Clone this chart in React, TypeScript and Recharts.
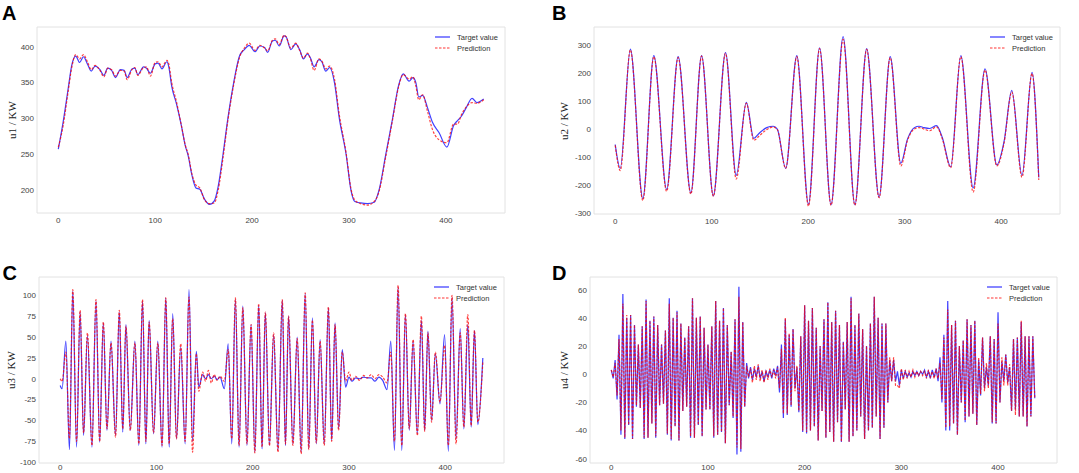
import React from 'react';
import { LineChart, Line, XAxis, YAxis, ReferenceArea } from 'recharts';

const X_DOMAIN: [number, number] = [-22, 461];
const X_TICKS = [0, 100, 200, 300, 400];
const BLUE = '#0000ff';
const RED = '#ff0000';
const SANS = '"Liberation Sans", Arial, sans-serif';
const SERIF = '"Liberation Serif", "Times New Roman", serif';

// ---- A: u1 ----
const aX = [
  0, 5, 10, 14, 18, 22, 26, 30, 34, 38,
  43, 47, 51, 55, 59, 64, 68, 71, 76, 79,
  82, 88, 91, 95, 100, 103, 107, 112, 114, 117,
  122, 127, 131, 134, 138, 142, 146, 151, 156, 161,
  165, 170, 175, 181, 187, 192, 197, 203, 208, 213,
  216, 221, 224, 228, 233, 235, 240, 245, 249, 253,
  257, 260, 264, 269, 272, 276, 280, 285, 290, 297,
  302, 306, 312, 319, 326, 331, 338, 345, 351, 356,
  362, 366, 369, 372, 376, 381, 386, 393, 401, 408,
  412, 416, 421, 427, 432, 439,
];
const aTarget = [
  257, 295, 340, 375, 387, 378, 386, 376, 366, 373,
  368, 360, 370, 367, 357, 368, 367, 357, 369, 370,
  361, 372, 370, 363, 376, 377, 369, 379, 372, 345,
  320, 290, 262, 248, 220, 203, 201, 187, 180, 185,
  205, 250, 300, 350, 387, 396, 402, 393, 401, 399,
  392, 408, 409, 401, 415, 414, 396, 404, 396, 383,
  390, 385, 372, 382, 379, 366, 371, 350, 300, 250,
  200, 184, 182, 181, 183, 200, 250, 300, 345, 362,
  352, 357, 350, 330, 332, 315, 295, 280, 260, 290,
  297, 303, 315, 328, 322, 327,
];
const aPred = [
  260, 290, 336, 372, 389, 383, 389, 379, 368, 374,
  367, 358, 370, 368, 359, 367, 366, 354, 368, 371,
  360, 371, 372, 359, 378, 379, 372, 381, 376, 350,
  323, 290, 263, 250, 222, 207, 203, 186, 181, 182,
  200, 245, 297, 347, 385, 398, 405, 395, 402, 398,
  394, 409, 411, 403, 416, 414, 398, 405, 395, 384,
  391, 384, 367, 383, 380, 369, 373, 355, 305, 252,
  202, 186, 181, 179, 184, 198, 247, 298, 343, 361,
  355, 358, 345, 326, 333, 310, 285, 270, 266, 292,
  292, 305, 316, 322, 321, 326,
];
const aTicks = [200, 250, 300, 350, 400];

// ---- B: u2 ----
const bX = [
  0, 5.2, 15.7, 28.6, 40, 53.3, 65.2, 78.4, 89.5, 101.7,
  114.3, 125.4, 135.9, 143.6, 150, 157, 163.8, 168, 176.7, 188.2,
  200.3, 211.8, 223.7, 236.2, 248.4, 260.6, 273.5, 285, 296, 303,
  310, 315, 320, 326, 333, 339, 347.7, 358.2, 371, 383.3,
  395.5, 403, 411, 421.6, 432, 439,
];
const bTarget = [
  -55, -140, 285, -248, 262, -215, 258, -228, 262, -238,
  273, -165, 95, -33, -12, 5, 10, 0, -140, 262,
  -268, 290, -270, 330, -270, 287, -243, 258, -122, -35,
  5, 10, 5, 2, 12, -30, -135, 262, -210, 215,
  -128, -45, 138, -165, 202, -173,
];
const bPred = [
  -58, -148, 282, -255, 258, -222, 255, -232, 260, -240,
  270, -178, 92, -40, -22, -2, 7, -2, -140, 258,
  -275, 287, -272, 320, -272, 284, -245, 255, -132, -40,
  0, 5, 0, -6, 8, -35, -138, 258, -225, 210,
  -132, -50, 132, -172, 198, -182,
];
const bTicks = [-300, -200, -100, 0, 100, 200, 300];

// ---- C: u3 ----
const cX = [
  0, 2, 5.9, 9.6, 13.1, 17, 20.7, 24.3, 28.3, 33,
  37.2, 41, 44.8, 48.6, 52.8, 57.5, 61.4, 65, 68.3, 72.8,
  77.6, 81.7, 85.5, 89, 92.4, 97, 101.4, 105.8, 109.7, 113.2,
  116.9, 120.8, 125.2, 129.8, 133.8, 137.5, 141.4, 144, 148, 151,
  154, 157, 160, 163, 166, 170.5, 174.5, 178.2, 182, 185.8,
  189.7, 194, 198.3, 202.2, 206.2, 209.7, 213.1, 217.4, 221.7, 226.2,
  230.7, 234, 237.2, 241.7, 246.2, 250.3, 254.5, 258.2, 262, 266,
  270, 274.3, 278.6, 282, 285.5, 289.2, 293, 296.5, 300, 303,
  307, 311, 315, 319, 323, 327, 331, 335, 339.5, 343.4,
  347.2, 351, 354.8, 358.6, 362.6, 366.6, 371, 375.2, 378.6, 382,
  385.8, 389.7, 394.5, 399.3, 403.2, 407, 411.2, 415.5, 419.3, 423.4,
  426.9, 430.3, 433.8, 439,
];
const cTarget = [
  -8, -12, 45, -85, 105, -82, 80, -68, 52, -82,
  93, -76, 67, -62, 45, -68, 80, -64, 65, -62,
  45, -80, 93, -78, 70, -66, 45, -82, 97, -82,
  78, -72, 38, -78, 107, -75, 33, -10, 5, 0,
  5, 0, 3, -1, 2, -12, 42, -78, 95, -82,
  87, -80, 65, -88, 88, -84, 79, -80, 53, -86,
  94, -80, 75, -78, 50, -88, 102, -84, 73, -78,
  47, -78, 85, -74, 67, -60, 35, -10, 2, -3,
  1, 0, 2, 1, 1, -3, 2, -2, -13, 45,
  -86, 110, -86, 77, -62, 45, -66, 70, -62, 57,
  -50, 30, -30, 53, -87, 97, -72, 60, -60, 65,
  -58, 58, -55, 25,
];
const cPred = [
  0, -3, 32, -72, 107, -75, 82, -65, 55, -80,
  95, -75, 68, -60, 43, -70, 82, -60, 63, -62,
  43, -78, 95, -75, 68, -65, 43, -80, 97, -78,
  72, -72, 42, -75, 98, -88, 30, -15, 8, -3,
  10, -5, 5, -2, 3, -3, 35, -72, 97, -80,
  85, -78, 65, -89, 90, -82, 80, -80, 55, -88,
  95, -78, 75, -80, 48, -90, 103, -85, 70, -77,
  45, -80, 86, -75, 65, -62, 32, -3, 8, -2,
  3, -2, 4, 1, 5, 0, 5, 2, -5, 32,
  -75, 112, -80, 78, -60, 47, -68, 75, -63, 55,
  -52, 32, -28, 40, -80, 100, -78, 55, -58, 77,
  -56, 58, -52, 20,
];
const cTicks = [-100, -75, -50, -25, 0, 25, 50, 75, 100];

// ---- D: u4 (one value every 2 steps, peaks and troughs) ----
const D_STEP = 2;
const dTarget = [
  3, -3, 10, -18, 28, -43, 57, -46, 40, -36,
  42, -46, 35, -23, 21, -24, 34, -46, 53, -45,
  38, -35, 41, -45, 35, -22, 21, -21, 31, -43,
  54, -47, 40, -37, 45, -47, 36, -26, 26, -23,
  34, -45, 54, -45, 40, -36, 41, -44, 33, -25,
  21, -25, 34, -45, 52, -43, 38, -41, 47, -49,
  35, -22, 16, -31, 39, -57, 62, -55, 37, -23,
  8, -3, 5, -4, 4, -2, 6, -3, 2, -5,
  2, -2, 3, -3, 4, -1, 6, -13, 21, -31,
  39, -29, 28, -23, 32, -10, 5, -27, 27, -41,
  49, -42, 38, -40, 47, -37, 33, -47, 20, -26,
  39, -45, 51, -41, 37, -48, 45, -34, 35, -48,
  23, -25, 37, -48, 55, -44, 35, -40, 43, -30,
  32, -46, 20, -40, 36, -38, 55, -30, 40, -46,
  36, -38, 36, -20, 10, -5, 10, -5, 2, -8,
  3, -3, 2, -2, 1, -2, 2, -1, 2, -1,
  2, 0, 3, -2, 2, -3, 3, -2, 4, -5,
  12, -20, 28, -40, 52, -40, 35, -35, 38, -43,
  20, -20, 24, -34, 39, -30, 35, -28, 38, -36,
  10, -15, 26, -10, 5, -8, 27, -35, 25, -35,
  44, -20, 9, -5, 14, -6, 5, -26, 25, -25,
  26, -30, 37, -30, 27, -37, 27, -30, 27, -17,
];
const dPred = [
  3, -2, 8, -15, 25, -40, 50, -45, 42, -36,
  42, -46, 35, -22, 21, -24, 34, -45, 52, -45,
  38, -35, 41, -44, 35, -22, 21, -21, 31, -42,
  50, -46, 40, -37, 44, -47, 36, -26, 26, -23,
  34, -44, 54, -45, 40, -36, 41, -44, 33, -25,
  21, -25, 34, -44, 52, -43, 38, -41, 47, -49,
  35, -22, 16, -30, 39, -52, 55, -53, 37, -23,
  6, -2, 4, -6, 6, -4, 7, -5, 3, -6,
  3, -4, 4, -2, 3, -3, 5, -10, 18, -28,
  40, -28, 29, -22, 32, -12, 6, -26, 27, -40,
  49, -41, 38, -40, 47, -37, 33, -47, 20, -26,
  39, -45, 51, -41, 37, -48, 45, -34, 35, -48,
  23, -25, 37, -48, 54, -44, 35, -40, 43, -30,
  32, -46, 20, -40, 36, -38, 55, -30, 40, -46,
  36, -38, 36, -20, 12, -5, 12, -8, -8, -10,
  4, -4, 3, -3, 2, -2, 3, -2, 2, -1,
  2, -1, 2, -3, 3, -2, 2, -3, 4, -3,
  8, -18, 26, -38, 46, -37, 35, -35, 38, -43,
  20, -20, 24, -33, 39, -30, 35, -28, 38, -36,
  12, -14, 26, -12, 8, -10, 27, -34, 25, -35,
  36, -20, 12, -8, 14, -8, 7, -26, 25, -29,
  26, -30, 38, -30, 27, -37, 27, -30, 27, -17,
];
const dX = dTarget.map((_, i) => i * D_STEP);
const dTicks = [-60, -40, -20, 0, 20, 40, 60];

type Box = { left: number; top: number; right: number; bottom: number };

type PanelDef = {
  letter: string;
  letterPos: [number, number];
  yLabel: string;
  yLabelX: number;
  x: number[];
  target: number[];
  pred: number[];
  yDomain: [number, number];
  yTicks: number[];
  box: Box;
  xTickGap: number;
  curve: 'monotone' | 'linear';
};

const panels: PanelDef[] = [
  {
    letter: 'A', letterPos: [2, 2.5], yLabel: 'u1 / KW', yLabelX: 12,
    x: aX, target: aTarget, pred: aPred, yDomain: [168, 427.5], yTicks: aTicks,
    box: { left: 37, top: 27, right: 505, bottom: 213 }, xTickGap: 4, curve: 'monotone',
  },
  {
    letter: 'B', letterPos: [552, 2.5], yLabel: 'u2 / KW', yLabelX: 564,
    x: bX, target: bTarget, pred: bPred, yDomain: [-303, 364], yTicks: bTicks,
    box: { left: 594, top: 27, right: 1060, bottom: 214 }, xTickGap: 4, curve: 'monotone',
  },
  {
    letter: 'C', letterPos: [2.5, 263], yLabel: 'u3 / KW', yLabelX: 11,
    x: cX, target: cTarget, pred: cPred, yDomain: [-101, 122], yTicks: cTicks,
    box: { left: 39, top: 277, right: 504, bottom: 463 }, xTickGap: 1, curve: 'monotone',
  },
  {
    letter: 'D', letterPos: [552, 263], yLabel: 'u4 / KW', yLabelX: 564,
    x: dX, target: dTarget, pred: dPred, yDomain: [-63, 69], yTicks: dTicks,
    box: { left: 590, top: 277, right: 1057, bottom: 463 }, xTickGap: 1, curve: 'linear',
  },
];

const AXIS_W = 40;
const AXIS_H = 12;
const PAD = 2;
const tickStyle = { fontSize: 8, fill: '#444', fontFamily: SANS };

const LegendRow = ({ x, y, dashed, label }: { x: number; y: number; dashed: boolean; label: string }) => (
  <div style={{ position: 'absolute', left: x, top: y - 5, height: 10, display: 'flex', alignItems: 'center', fontFamily: SANS, fontSize: 7.5, color: '#333', whiteSpace: 'nowrap' }}>
    <svg width={15} height={4} style={{ display: 'block' }}>
      <line x1={0} y1={2} x2={15} y2={2} stroke={dashed ? RED : BLUE} strokeOpacity={0.8} strokeWidth={1.2} strokeDasharray={dashed ? '2.5 1.5' : undefined} />
    </svg>
    <span style={{ marginLeft: 7 }}>{label}</span>
  </div>
);

const Panel = ({ def }: { def: PanelDef }) => {
  const { box } = def;
  const plotW = box.right - box.left;
  const plotH = box.bottom - box.top;
  const rows = def.x.map((x, i) => ({ x, target: def.target[i], pred: def.pred[i] }));
  return (
    <>
      <div style={{ position: 'absolute', left: box.left - AXIS_W, top: box.top - PAD }}>
        <LineChart width={AXIS_W + plotW + PAD} height={PAD + plotH + AXIS_H} data={rows} margin={{ top: PAD, right: PAD, bottom: 0, left: 0 }}>
          <XAxis type="number" dataKey="x" domain={X_DOMAIN} ticks={X_TICKS} interval={0} allowDataOverflow axisLine={false} tickLine={false} tickSize={0} tickMargin={def.xTickGap} height={AXIS_H} tick={tickStyle} />
          <YAxis type="number" domain={def.yDomain} ticks={def.yTicks} interval={0} allowDataOverflow axisLine={false} tickLine={false} tickSize={0} tickMargin={3} width={AXIS_W} tick={tickStyle} />
          <ReferenceArea x1={X_DOMAIN[0]} x2={X_DOMAIN[1]} y1={def.yDomain[0]} y2={def.yDomain[1]} fill="none" stroke="#e2e2e2" strokeWidth={1} ifOverflow="visible" />
          <Line type={def.curve} dataKey="target" stroke={BLUE} strokeOpacity={0.75} strokeWidth={1.2} dot={false} activeDot={false} isAnimationActive={false} />
          <Line type={def.curve} dataKey="pred" stroke={RED} strokeOpacity={0.75} strokeWidth={1.2} strokeDasharray="2.5 1.5" dot={false} activeDot={false} isAnimationActive={false} />
        </LineChart>
      </div>
      <div style={{ position: 'absolute', left: def.letterPos[0], top: def.letterPos[1], fontFamily: SANS, fontWeight: 'bold', fontSize: 20, lineHeight: '20px', color: '#000' }}>
        {def.letter}
      </div>
      <div style={{ position: 'absolute', left: def.yLabelX, top: (box.top + box.bottom) / 2, transform: 'translate(-50%, -50%) rotate(-90deg)', fontFamily: SERIF, fontSize: 11, color: '#222', whiteSpace: 'nowrap' }}>
        {def.yLabel}
      </div>
      <LegendRow x={box.right - 70} y={box.top + 10} dashed={false} label="Target value" />
      <LegendRow x={box.right - 70} y={box.top + 21} dashed label="Prediction" />
    </>
  );
};

export default function App() {
  return (
    <div style={{ position: 'fixed', left: 0, top: 0, width: 1079, height: 473, background: '#fff', overflow: 'hidden' }}>
      {panels.map((p) => (
        <Panel key={p.letter} def={p} />
      ))}
    </div>
  );
}
